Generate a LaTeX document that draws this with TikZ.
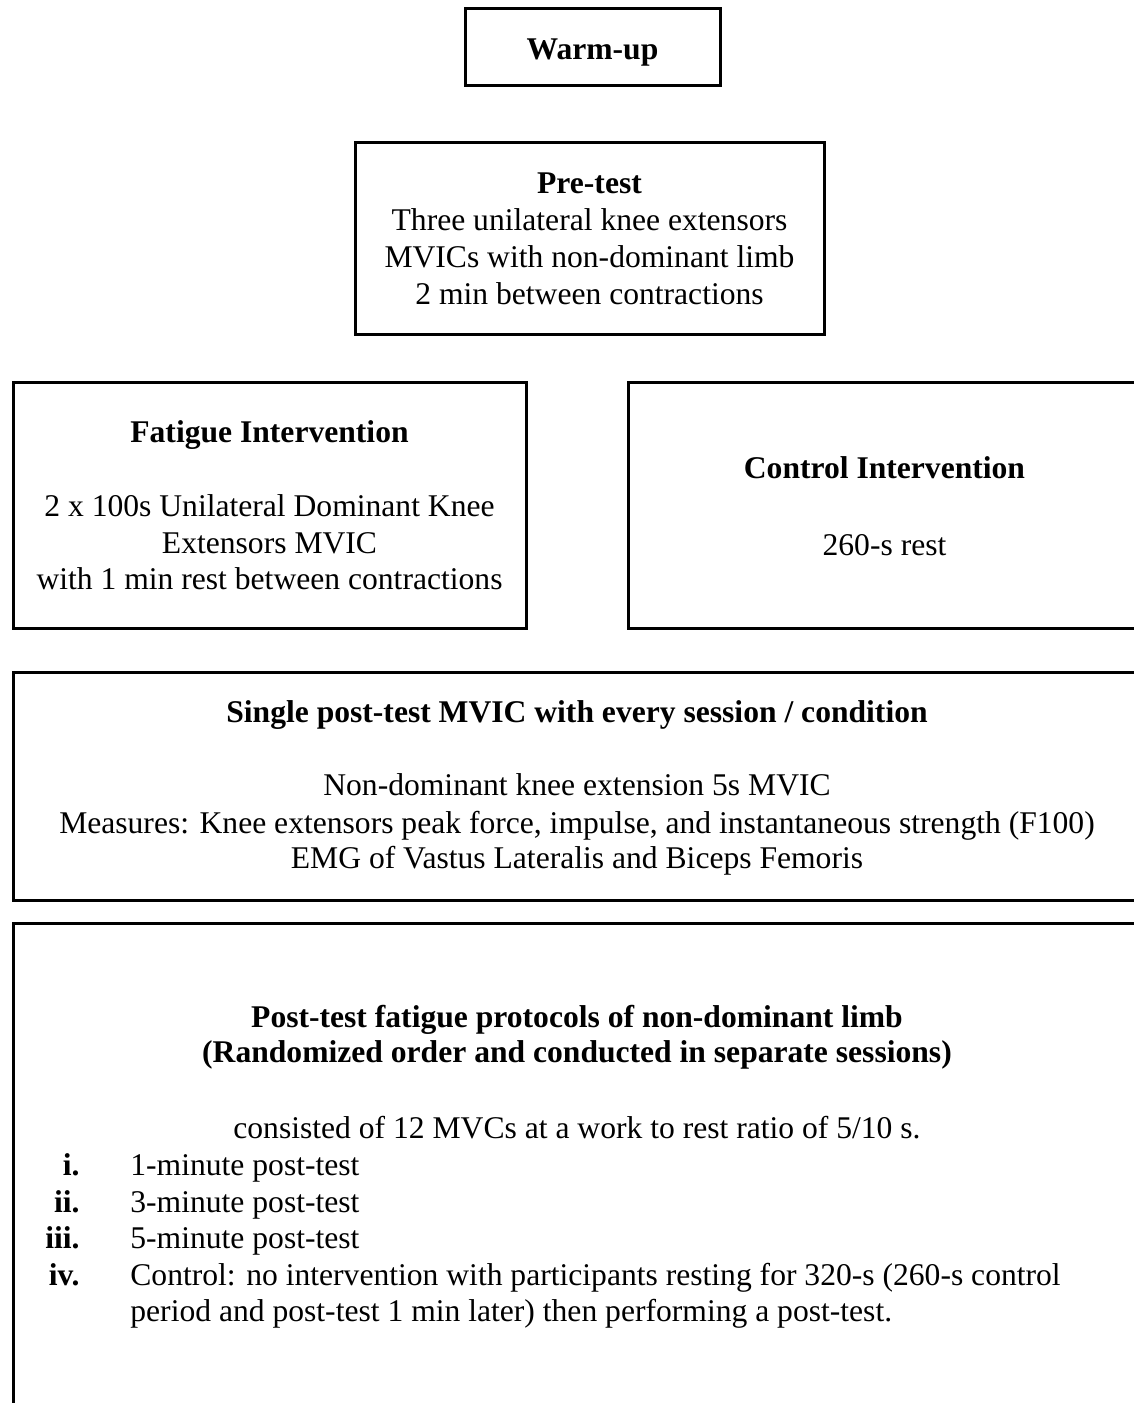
\documentclass[tikz,border=0pt]{standalone}
\usepackage{fontspec}
\setmainfont{Liberation Serif}

\begin{document}
\begin{tikzpicture}[x=0.5pt,y=-0.5pt,
  box/.style={draw, line width=1.5pt, inner sep=0pt},
  txt/.style={anchor=base, inner sep=0pt, font=\fontsize{15.8}{18.2}\selectfont},
  hd/.style={txt, font=\fontsize{15.8}{18.2}\selectfont\bfseries},
  num/.style={hd, anchor=base east}]
\useasboundingbox (0,0) rectangle (1134,1403);
\clip (0,0) rectangle (1134,1403);
% boxes
\node[box, minimum width=127.5pt, minimum height=38.5pt](warm) at (592.5,46.5){};
\node[box, minimum width=234.5pt, minimum height=96pt](pre) at (589.5,238){};
\node[box, minimum width=256.5pt, minimum height=123pt](fatigue) at (269.5,505){};
\node[box, minimum width=256.5pt, minimum height=123pt](control) at (884.5,505){};
\node[box, minimum width=564pt, minimum height=114pt](single) at (577,786){};
\node[box, minimum width=564pt, minimum height=288.5pt](post) at (577,1211.5){};
% warm-up and pre-test
\node[hd](warmT) at (592.5,59){Warm-up};
\node[hd](preT) at (589.5,193){Pre-test};
\node[txt](pre1) at (589.5,230){Three unilateral knee extensors};
\node[txt](pre2) at (589.5,267){MVICs with non-dominant limb};
\node[txt](pre3) at (589.5,304){2 min between contractions};
% interventions
\node[hd](fatT) at (269.5,442){Fatigue Intervention};
\node[txt](fat1) at (269.5,516){2 x 100s Unilateral Dominant Knee};
\node[txt](fat2) at (269.5,553){Extensors MVIC};
\node[txt](fat3) at (269.5,589){with 1 min rest between contractions};
\node[hd](conT) at (884.5,478){Control Intervention};
\node[txt](con1) at (884.5,555){260-s rest};
% single post-test
\node[hd](sinT) at (577,722){Single post-test MVIC with every session / condition};
\node[txt](sin1) at (577,795){Non-dominant knee extension 5s MVIC};
\node[txt](sin2) at (577,833){Measures: Knee extensors peak force, impulse, and instantaneous strength (F100)};
\node[txt](sin3) at (577,868){EMG of Vastus Lateralis and Biceps Femoris};
% post-test protocols
\node[hd](posT1) at (577,1027){Post-test fatigue protocols of non-dominant limb};
\node[hd](posT2) at (577,1062){(Randomized order and conducted in separate sessions)};
\node[txt](pos0) at (577,1138){consisted of 12 MVCs at a work to rest ratio of 5/10 s.};
\node[num](n1) at (80,1175){i.};
\node[num](n2) at (80,1212){ii.};
\node[num](n3) at (80,1248){iii.};
\node[num](n4) at (80,1285){iv.};
\node[txt, anchor=base west](pos1) at (130,1175){1-minute post-test};
\node[txt, anchor=base west](pos2) at (130,1212){3-minute post-test};
\node[txt, anchor=base west](pos3) at (130,1248){5-minute post-test};
\node[txt, anchor=base west](pos4) at (130,1285){Control: no intervention with participants resting for 320-s (260-s control};
\node[txt, anchor=base west](pos5) at (130,1321){period and post-test 1 min later) then performing a post-test.};
\end{tikzpicture}
\end{document}
